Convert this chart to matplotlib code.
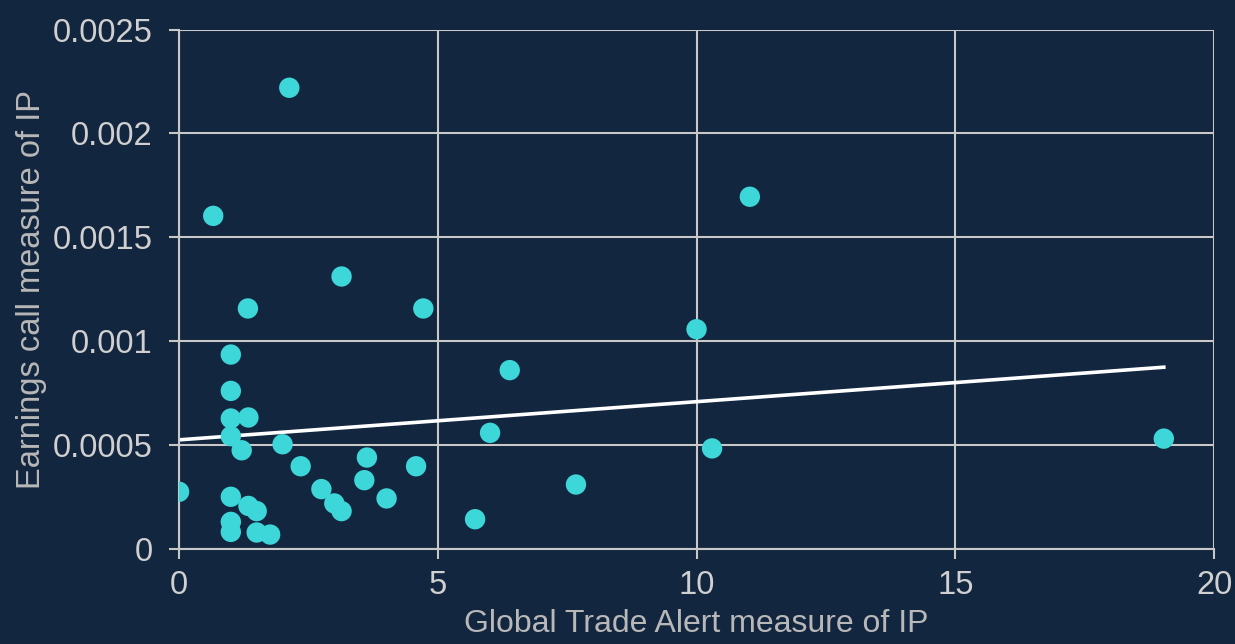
import numpy as np
import matplotlib.pyplot as plt

# Global Trade Alert measure vs earnings call measure of IP
gta_ip = [0.0, 1.0, 1.0, 1.0, 1.34, 1.0, 1.21, 2.0, 2.35, 2.75, 3.0, 3.14,
          3.63, 3.58, 4.01, 4.58, 1.0, 1.34, 1.5, 1.0, 1.0, 1.5, 1.76,
          2.13, 0.66, 3.14, 1.33, 4.72, 11.03, 10.0, 6.39, 6.01, 10.3,
          7.67, 5.72, 19.03]
call_ip = [0.000274, 0.000935, 0.00076, 0.000627, 0.000632, 0.000542,
           0.000474, 0.000503, 0.000397, 0.000287, 0.000218, 0.000181,
           0.000439, 0.00033, 0.000242, 0.000397, 0.00025, 0.000206,
           0.000181, 0.000129, 0.000081, 0.000078, 0.000068,
           0.00222, 0.001603, 0.001311, 0.001157, 0.001157, 0.001695,
           0.001057, 0.00086, 0.000558, 0.000483, 0.000309, 0.000142,
           0.00053]

x_ticks = [0, 5, 10, 15, 20]
y_ticks = [0, 0.0005, 0.001, 0.0015, 0.002, 0.0025]
y_tick_labels = ["0", "0.0005", "0.001", "0.0015", "0.002", "0.0025"]

bg = "#13263f"
grid_col = "#c8c8c8"
text_col = "#d0d0d0"

plt.rcParams['font.family'] = ['Liberation Sans', 'DejaVu Sans']

fig = plt.figure(figsize=(12.35, 6.44), dpi=100, facecolor=bg)
ax = fig.add_axes([0.145, 0.148, 0.838, 0.806], facecolor=bg)

ax.scatter(gta_ip, call_ip, s=215, color="#3dd6d9", edgecolors="none", zorder=3)

# linear trend line
xs = np.array(gta_ip)
ys = np.array(call_ip)
slope, icpt = np.polyfit(xs, ys, 1)
xl = np.array([xs.min(), xs.max()])
ax.plot(xl, slope * xl + icpt, color="white", lw=2.6, zorder=2)

ax.set_xlim(0, 20)
ax.set_ylim(0, 0.0025)
ax.set_xticks(x_ticks)
ax.set_yticks(y_ticks)
ax.set_yticklabels(y_tick_labels)
ax.grid(True, color=grid_col, lw=1.5, zorder=0)
ax.set_axisbelow(True)

for s in ["top", "right"]:
    ax.spines[s].set_visible(False)
for s in ["left", "bottom"]:
    ax.spines[s].set_color(grid_col)
    ax.spines[s].set_linewidth(1.5)

ax.tick_params(colors=grid_col, labelcolor=text_col, labelsize=23.5,
               length=7, width=1.5)
ax.tick_params(axis="y", pad=12)
ax.tick_params(axis="x", pad=8)

ax.set_xlabel("Global Trade Alert measure of IP", color="#b8b8b8",
              fontsize=23, labelpad=6)
ax.set_ylabel("Earnings call measure of IP", color="#b8b8b8",
              fontsize=23.5, labelpad=4)

fig.savefig("out.png", dpi=100, facecolor=bg)
